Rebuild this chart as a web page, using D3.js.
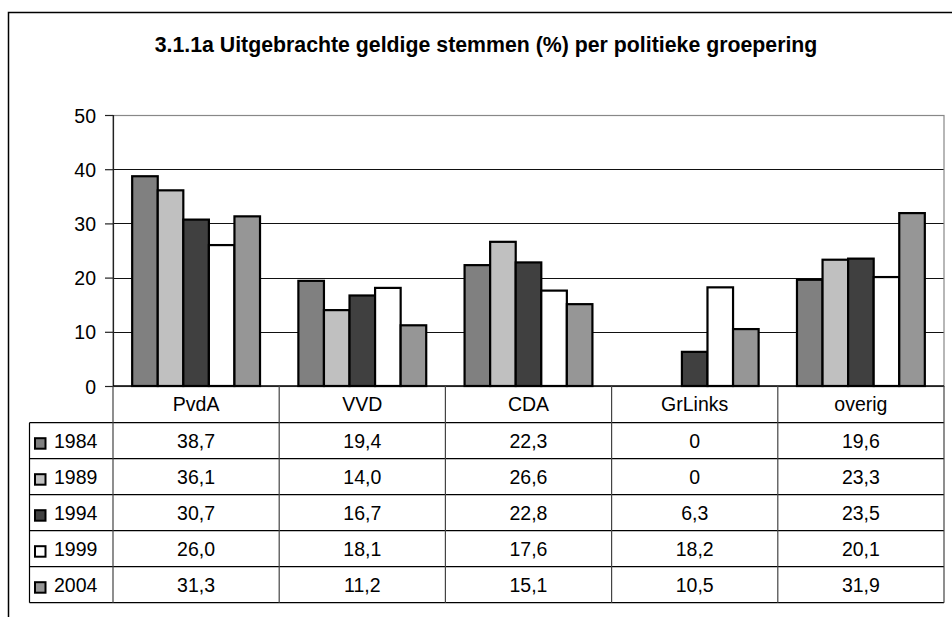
<!DOCTYPE html>
<html>
<head>
<meta charset="utf-8">
<script src="https://cdn.jsdelivr.net/npm/d3@7"></script>
<style>
  html, body { margin: 0; padding: 0; background: #fff; }
  svg { display: block; font-family: "Liberation Sans", Arial, sans-serif; }
</style>
</head>
<body>
<svg id="chart" width="952" height="617"></svg>
<script>
const title = "3.1.1a Uitgebrachte geldige stemmen (%) per politieke groepering";
const categories = ["PvdA", "VVD", "CDA", "GrLinks", "overig"];
const years = ["1984", "1989", "1994", "1999", "2004"];
const values1984 = [38.7, 19.4, 22.3, 0, 19.6];
const values1989 = [36.1, 14.0, 26.6, 0, 23.3];
const values1994 = [30.7, 16.7, 22.8, 6.3, 23.5];
const values1999 = [26.0, 18.1, 17.6, 18.2, 20.1];
const values2004 = [31.3, 11.2, 15.1, 10.5, 31.9];
const yTicks = [0, 10, 20, 30, 40, 50];
const colors = ["#808080", "#c0c0c0", "#404040", "#ffffff", "#969696"];

const series = [values1984, values1989, values1994, values1999, values2004];

const svg = d3.select("#chart");
const plot = { left: 113, right: 944, top: 115, bottom: 386 };
const rowH = 36;
const headerH = 36.7;
const legendLeft = 29.5;
const fontSize = 19.5;

// Outer chart frame (extends beyond viewport right & bottom)
svg.append("rect")
  .attr("x", 8.5).attr("y", 12.5)
  .attr("width", 970).attr("height", 640)
  .attr("fill", "#fff").attr("stroke", "#000").attr("stroke-width", 1.5);

// Title
svg.append("text")
  .attr("x", 486).attr("y", 51.5)
  .attr("text-anchor", "middle")
  .attr("font-weight", "bold")
  .attr("font-size", 21.3)
  .text(title);

const x0 = d3.scaleBand().domain(categories).range([plot.left, plot.right]).padding(0);
const x1 = d3.scaleBand().domain(years).range([0, x0.bandwidth()]).paddingInner(0).paddingOuter(0.75);
const y = d3.scaleLinear().domain([0, 50]).range([plot.bottom, plot.top]);

// Gridlines
svg.append("g").selectAll("line")
  .data(yTicks.filter(t => t > 0 && t < 50))
  .join("line")
  .attr("x1", plot.left).attr("x2", plot.right)
  .attr("y1", d => Math.round(y(d)) + 0.5).attr("y2", d => Math.round(y(d)) + 0.5)
  .attr("stroke", "#111").attr("stroke-width", 1);

// Plot area border (gray)
svg.append("rect")
  .attr("x", plot.left).attr("y", plot.top + 0.5)
  .attr("width", plot.right - plot.left).attr("height", plot.bottom - plot.top)
  .attr("fill", "none").attr("stroke", "#888").attr("stroke-width", 1.2);

// Bars
const groups = svg.append("g").selectAll("g")
  .data(categories)
  .join("g")
  .attr("transform", d => `translate(${x0(d)},0)`);

groups.selectAll("rect")
  .data((c, ci) => years.map((yr, yi) => ({ yr, yi, v: series[yi][ci] })))
  .join("rect")
  .filter(d => d.v > 0)
  .attr("x", d => x1(d.yr))
  .attr("y", d => y(d.v))
  .attr("width", x1.bandwidth())
  .attr("height", d => y(0) - y(d.v))
  .attr("fill", d => colors[d.yi])
  .attr("stroke", "#000")
  .attr("stroke-width", 2.2);

// Y axis
const yAxis = d3.axisLeft(y).tickValues(yTicks).tickSize(8).tickPadding(9).tickFormat(d3.format("d"));
const ya = svg.append("g").attr("transform", `translate(${plot.left},0)`).call(yAxis);
ya.select(".domain").attr("stroke", "#222").attr("stroke-width", 1.2);
ya.selectAll(".tick line").attr("stroke", "#222").attr("stroke-width", 1.2);
ya.selectAll(".tick text")
  .attr("font-family", "Liberation Sans, Arial, sans-serif")
  .attr("font-size", fontSize).attr("fill", "#000")
  .attr("dy", "0.36em");

// Data table
const tbl = svg.append("g");
const fmt = v => v === 0 ? "0" : d3.format(".1f")(v).replace(".", ",");

const rowTop = i => plot.bottom + headerH + i * rowH;
tbl.append("line")
  .attr("x1", plot.left).attr("x2", plot.right)
  .attr("y1", plot.bottom).attr("y2", plot.bottom)
  .attr("stroke", "#000").attr("stroke-width", 1.5);
for (let i = 0; i <= years.length; i++) {
  tbl.append("line")
    .attr("x1", legendLeft).attr("x2", plot.right)
    .attr("y1", rowTop(i)).attr("y2", rowTop(i))
    .attr("stroke", "#000").attr("stroke-width", 1.2);
}
const bounds = categories.map(c => x0(c)).concat([plot.right]);
tbl.selectAll("line.v")
  .data(bounds)
  .join("line")
  .attr("class", "v")
  .attr("x1", d => d).attr("x2", d => d)
  .attr("y1", plot.bottom).attr("y2", rowTop(years.length))
  .attr("stroke", "#444").attr("stroke-width", 1.2);
tbl.append("line")
  .attr("x1", legendLeft).attr("x2", legendLeft)
  .attr("y1", rowTop(0)).attr("y2", rowTop(years.length))
  .attr("stroke", "#000").attr("stroke-width", 1.2);

tbl.selectAll("text.cat")
  .data(categories)
  .join("text")
  .attr("class", "cat")
  .attr("x", d => x0(d) + x0.bandwidth() / 2)
  .attr("y", plot.bottom + headerH / 2)
  .attr("dy", "0.36em")
  .attr("text-anchor", "middle")
  .attr("font-size", fontSize)
  .text(d => d);

years.forEach((yr, yi) => {
  const cy = rowTop(yi) + rowH / 2;
  tbl.append("rect")
    .attr("x", 35).attr("y", cy - 2.5)
    .attr("width", 10.5).attr("height", 10.5)
    .attr("fill", colors[yi]).attr("stroke", "#000").attr("stroke-width", 2);
  tbl.append("text")
    .attr("x", 54).attr("y", cy)
    .attr("dy", "0.36em")
    .attr("font-size", fontSize)
    .text(yr);
  tbl.selectAll(null)
    .data(categories)
    .join("text")
    .attr("x", d => x0(d) + x0.bandwidth() / 2)
    .attr("y", cy)
    .attr("dy", "0.36em")
    .attr("text-anchor", "middle")
    .attr("font-size", fontSize)
    .text((d, ci) => fmt(series[yi][ci]));
});
</script>
</body>
</html>
